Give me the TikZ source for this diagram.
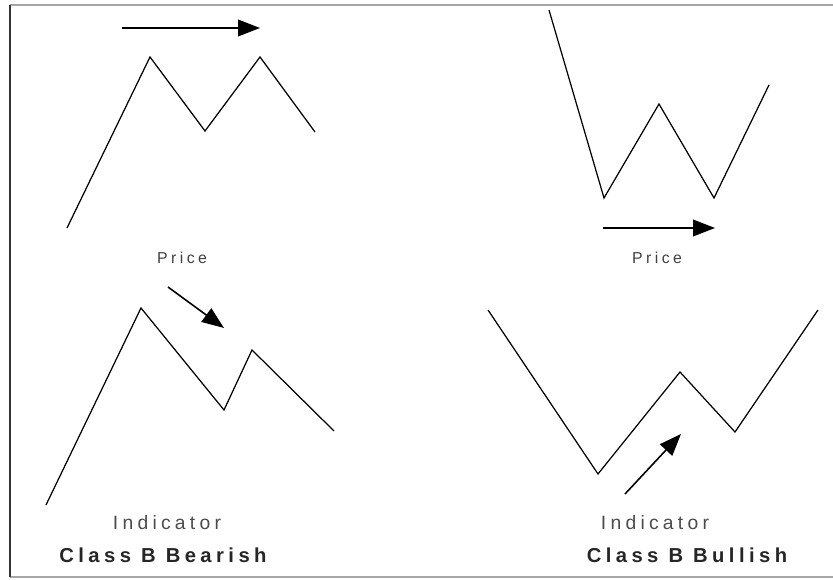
\documentclass[tikz,border=0pt]{standalone}
\usepackage{fontspec}
\setmainfont{Liberation Sans}
\usetikzlibrary{arrows.meta}

\tikzset{
  wave/.style={line width=0.7pt, line join=miter},
  move/.style={line width=0.9pt, -{Triangle[length=12.5pt, width=9.5pt]}},
  pricelbl/.style={font=\fontsize{9}{10}\selectfont\addfontfeatures{LetterSpace=22}, text=black!75},
  indlbl/.style={font=\fontsize{11}{12}\selectfont\addfontfeatures{LetterSpace=22}, text=black!70},
  classlbl/.style={font=\fontsize{11.5}{12}\selectfont\bfseries\addfontfeatures{LetterSpace=22}, text=black!85},
}

\begin{document}
\begin{tikzpicture}[x=0.02cm, y=-0.02cm]
  \useasboundingbox (0,0) rectangle (833,580);
  % frame: no right side
  \draw[line width=1.2pt, black!35] (10,5) -- (833,5);
  \draw[line width=1.2pt, black!35] (10,577) -- (833,577);
  \draw[line width=1pt, black!80] (10,5) -- (10,577);

  % top left: price makes the higher top
  \begin{scope}
    \draw[wave] (67,228) -- (150,57) -- (205,131) -- (260,57) -- (315,132);
    \coordinate (tlA) at (122,28);
    \coordinate (tlB) at (260,28);
    \draw[move] (tlA) -- (tlB);
    \node[pricelbl] (tlprice) at (182,258) {Price};
  \end{scope}

  % top right: price makes the lower low
  \begin{scope}
    \draw[wave] (549,10) -- (604,198) -- (659,104) -- (714,198) -- (769,85);
    \coordinate (trA) at (603,228);
    \coordinate (trB) at (715,228);
    \draw[move] (trA) -- (trB);
    \node[pricelbl] (trprice) at (657,258) {Price};
  \end{scope}

  % bottom left: indicator, lower top
  \begin{scope}
    \draw[wave] (46,505) -- (141,308) -- (224,410) -- (252,350) -- (334,431);
    \coordinate (blA) at (168,287);
    \coordinate (blB) at (224,328);
    \draw[move] (blA) -- (blB);
    \node[indlbl] (blind) at (167,523) {Indicator};
    \node[classlbl] (blclass) at (163,555) {Class B Bearish};
  \end{scope}

  % bottom right: indicator, higher low
  \begin{scope}
    \draw[wave] (488,310) -- (598,474) -- (680,372) -- (735,432) -- (818,310);
    \coordinate (brA) at (625,494);
    \coordinate (brB) at (681,434);
    \draw[move] (brA) -- (brB);
    \node[indlbl] (brind) at (655,523) {Indicator};
    \node[classlbl] (brclass) at (687,555) {Class B Bullish};
  \end{scope}
\end{tikzpicture}
\end{document}
